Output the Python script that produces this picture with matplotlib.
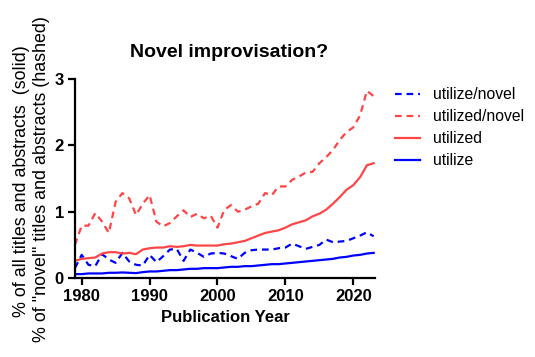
import matplotlib
matplotlib.use("Agg")
import matplotlib.pyplot as plt
import numpy as np

plt.rcParams['font.family'] = ['Liberation Sans', 'DejaVu Sans']

years = list(range(1979, 2024))

utilize_novel = [0.15, 0.35, 0.20, 0.18, 0.36, 0.28, 0.23, 0.38, 0.25, 0.20,
                 0.19, 0.35, 0.24, 0.33, 0.43, 0.44, 0.26, 0.43, 0.38, 0.32,
                 0.37, 0.38, 0.37, 0.33, 0.29, 0.38, 0.42, 0.43, 0.43, 0.43,
                 0.45, 0.46, 0.52, 0.48, 0.44, 0.47, 0.50, 0.58, 0.54, 0.55,
                 0.56, 0.60, 0.64, 0.69, 0.63]

utilized_novel = [0.50, 0.79, 0.79, 0.98, 0.85, 0.68, 1.15, 1.28, 1.20, 0.95,
                  1.12, 1.25, 0.85, 0.78, 0.83, 0.93, 1.02, 0.92, 0.97, 0.90,
                  0.94, 0.76, 1.03, 1.10, 1.00, 1.03, 1.08, 1.12, 1.28, 1.25,
                  1.38, 1.38, 1.48, 1.53, 1.59, 1.60, 1.73, 1.82, 1.93, 2.08,
                  2.20, 2.27, 2.45, 2.82, 2.74]

utilized = [0.26, 0.29, 0.30, 0.31, 0.37, 0.39, 0.39, 0.37, 0.38, 0.36,
            0.43, 0.45, 0.46, 0.46, 0.48, 0.47, 0.48, 0.50, 0.49, 0.49,
            0.49, 0.49, 0.51, 0.52, 0.54, 0.56, 0.60, 0.64, 0.68, 0.70,
            0.72, 0.76, 0.81, 0.84, 0.87, 0.93, 0.97, 1.03, 1.12, 1.22,
            1.33, 1.40, 1.52, 1.70, 1.73]

utilize = [0.06, 0.06, 0.07, 0.07, 0.07, 0.08, 0.08, 0.085, 0.08, 0.075,
           0.09, 0.10, 0.10, 0.11, 0.12, 0.12, 0.13, 0.14, 0.14, 0.15,
           0.15, 0.15, 0.16, 0.17, 0.17, 0.18, 0.18, 0.19, 0.20, 0.21,
           0.21, 0.22, 0.23, 0.24, 0.25, 0.26, 0.27, 0.28, 0.29, 0.31,
           0.32, 0.34, 0.35, 0.37, 0.38]

ylabel_lines = ['% of all titles and abstracts  (solid)',
                '% of "novel" titles and abstracts (hashed)']

BLUE = '#0000FF'
RED = '#FF4545'

W, H = 535, 357
fig = plt.figure(figsize=(5.35, 3.57), dpi=100)
ax = fig.add_axes([0.140, 0.221, 0.561, 0.558])

lw = 1.6
ax.plot(years, utilize_novel, color=BLUE, lw=lw, ls=(0, (3, 2.2)), label='utilize/novel')
ax.plot(years, utilized_novel, color=RED, lw=lw, ls=(0, (3, 2.2)), label='utilized/novel')
ax.plot(years, utilized, color=RED, lw=lw, label='utilized')
ax.plot(years, utilize, color=BLUE, lw=lw, label='utilize')

ax.set_xlim(1979, 2023.2)
ax.set_ylim(0, 3)
ax.set_xticks([1980, 1990, 2000, 2010, 2020])
ax.set_yticks([0, 1, 2, 3])
for s in ['top', 'right']:
    ax.spines[s].set_visible(False)
for s in ['left', 'bottom']:
    ax.spines[s].set_linewidth(1.6)
ax.tick_params(width=1.6, length=5, labelsize=12, direction='out', pad=3)
for lab in ax.get_xticklabels() + ax.get_yticklabels():
    lab.set_fontweight('bold')

ax.set_xlabel('Publication Year', fontsize=12, fontweight='bold', labelpad=4)
ax.set_title('Novel improvisation?', fontsize=14, fontweight='bold', pad=16, x=0.513)

# y-label lines placed as separate figure texts, sized to match the reference span
renderer = fig.canvas.get_renderer()
specs = [(ylabel_lines[0], 22, 181, 270), (ylabel_lines[1], 42, 179, 325)]
for txt, xc, yc, length in specs:
    t = fig.text(xc / W, 1 - yc / H, txt, rotation=90, ha='center', va='center',
                 fontsize=11)
    ext = t.get_window_extent(renderer)
    t.set_fontsize(11 * length / ext.height)

leg = ax.legend(loc='upper left', bbox_to_anchor=(1.02, 1.03), frameon=False,
                fontsize=11.3, handlelength=1.6, labelspacing=0.45, handletextpad=0.8)

fig.savefig('out.png', dpi=100)
